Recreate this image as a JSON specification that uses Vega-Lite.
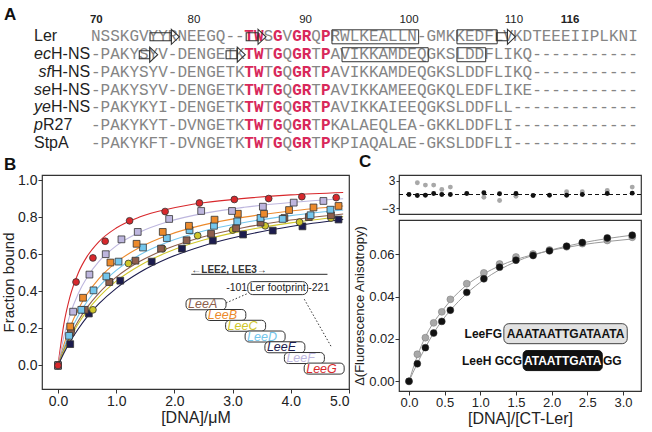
{
"$schema":"https://vega.github.io/schema/vega-lite/v6.json",
"padding":{"left":0,"top":0,"right":0,"bottom":0},
"background":"white",
"spacing":0,
"config":{
 "font":"Liberation Sans",
 "view":{"stroke":"#333","strokeWidth":1.2},
 "axis":{"grid":false,"domain":false,"tickColor":"#333","tickSize":4,"labelColor":"#222","titleColor":"#222","titleFontWeight":"normal","labelPadding":1,"titlePadding":1}
},
"datasets":{
 "seq":[
  {"r":0,"c":0,"s":"NSSKGVYYRNEEGQ--","h":0},{"r":0,"c":16,"s":"TW","h":1},{"r":0,"c":18,"s":"S","h":0},{"r":0,"c":19,"s":"G","h":1},{"r":0,"c":20,"s":"V","h":0},{"r":0,"c":21,"s":"GR","h":1},{"r":0,"c":23,"s":"Q","h":0},{"r":0,"c":24,"s":"P","h":1},{"r":0,"c":25,"s":"RWLKEALLN-GMKKEDFLVKDTEEEIIPLKNI","h":0},
  {"r":1,"c":0,"s":"-PAKYSYV-DENGETK","h":0},{"r":1,"c":16,"s":"TW","h":1},{"r":1,"c":18,"s":"T","h":0},{"r":1,"c":19,"s":"G","h":1},{"r":1,"c":20,"s":"Q","h":0},{"r":1,"c":21,"s":"GR","h":1},{"r":1,"c":23,"s":"T","h":0},{"r":1,"c":24,"s":"P","h":1},{"r":1,"c":25,"s":"AVIKKAMDEQGKSLDDFLIKQ-----------","h":0},
  {"r":2,"c":0,"s":"-PAKYSYV-DENGETK","h":0},{"r":2,"c":16,"s":"TW","h":1},{"r":2,"c":18,"s":"T","h":0},{"r":2,"c":19,"s":"G","h":1},{"r":2,"c":20,"s":"Q","h":0},{"r":2,"c":21,"s":"GR","h":1},{"r":2,"c":23,"s":"T","h":0},{"r":2,"c":24,"s":"P","h":1},{"r":2,"c":25,"s":"AVIKKAMDEQGKSLDDFLIKQ-----------","h":0},
  {"r":3,"c":0,"s":"-PAKYSYV-DENGETK","h":0},{"r":3,"c":16,"s":"TW","h":1},{"r":3,"c":18,"s":"T","h":0},{"r":3,"c":19,"s":"G","h":1},{"r":3,"c":20,"s":"Q","h":0},{"r":3,"c":21,"s":"GR","h":1},{"r":3,"c":23,"s":"T","h":0},{"r":3,"c":24,"s":"P","h":1},{"r":3,"c":25,"s":"AVIKKAMEEQGKQLEDFLIKE-----------","h":0},
  {"r":4,"c":0,"s":"-PAKYKYI-DENGETK","h":0},{"r":4,"c":16,"s":"TW","h":1},{"r":4,"c":18,"s":"T","h":0},{"r":4,"c":19,"s":"G","h":1},{"r":4,"c":20,"s":"Q","h":0},{"r":4,"c":21,"s":"GR","h":1},{"r":4,"c":23,"s":"T","h":0},{"r":4,"c":24,"s":"P","h":1},{"r":4,"c":25,"s":"AVIKKAIEEQGKSLDDFLL-------------","h":0},
  {"r":5,"c":0,"s":"-PAKYKYT-DVNGETK","h":0},{"r":5,"c":16,"s":"TW","h":1},{"r":5,"c":18,"s":"T","h":0},{"r":5,"c":19,"s":"G","h":1},{"r":5,"c":20,"s":"Q","h":0},{"r":5,"c":21,"s":"GR","h":1},{"r":5,"c":23,"s":"T","h":0},{"r":5,"c":24,"s":"P","h":1},{"r":5,"c":25,"s":"KALAEQLEA-GKKLDDFLI-------------","h":0},
  {"r":6,"c":0,"s":"-PAKYKFT-DVNGETK","h":0},{"r":6,"c":16,"s":"TW","h":1},{"r":6,"c":18,"s":"T","h":0},{"r":6,"c":19,"s":"G","h":1},{"r":6,"c":20,"s":"Q","h":0},{"r":6,"c":21,"s":"GR","h":1},{"r":6,"c":23,"s":"T","h":0},{"r":6,"c":24,"s":"P","h":1},{"r":6,"c":25,"s":"KPIAQALAE-GKSLDDFLI-------------","h":0}
 ],
 "names":[{"r":0,"pre":"","m":"Ler"},{"r":1,"pre":"ec","m":"H-NS"},{"r":2,"pre":"sf","m":"H-NS"},{"r":3,"pre":"se","m":"H-NS"},{"r":4,"pre":"ye","m":"H-NS"},{"r":5,"pre":"p","m":"R27"},{"r":6,"pre":"","m":"StpA"}],
 "pos":[{"c":0.55,"n":"70"},{"c":10.75,"n":"80"},{"c":22.4,"n":"90"},{"c":33.2,"n":"100"},{"c":44.15,"n":"110"},{"c":50.0,"n":"116"}],
 "helix":[{"r":0,"c":25.15,"c2":34.2},{"r":0,"c":38.2,"c2":42.4},{"r":1,"c":26.2,"c2":35.2},{"r":1,"c":38.2,"c2":41.2}],
 "strand":[{"r":0,"c":6.16,"c2":9.22},{"r":0,"c":16.2,"c2":18.27},{"r":0,"c":42.35,"c2":44.3},{"r":1,"c":5.04,"c2":6.96},{"r":1,"c":14.1,"c2":16.1}],
 "bpts":[
  {"s":"LeeE","x":0,"y":0},{"s":"LeeE","x":0.21,"y":0.115},{"s":"LeeE","x":0.53,"y":0.28},{"s":"LeeE","x":1.07,"y":0.457},{"s":"LeeE","x":1.61,"y":0.56},{"s":"LeeE","x":2.13,"y":0.63},{"s":"LeeE","x":2.66,"y":0.673},{"s":"LeeE","x":3.18,"y":0.706},{"s":"LeeE","x":3.69,"y":0.727},{"s":"LeeE","x":4.2,"y":0.75},{"s":"LeeE","x":4.82,"y":0.787},
  {"s":"LeeC","x":0,"y":0},{"s":"LeeC","x":0.23,"y":0.19},{"s":"LeeC","x":0.6,"y":0.3},{"s":"LeeC","x":0.89,"y":0.45},{"s":"LeeC","x":1.21,"y":0.55},{"s":"LeeC","x":1.8,"y":0.63},{"s":"LeeC","x":2.4,"y":0.7},{"s":"LeeC","x":3.0,"y":0.73},{"s":"LeeC","x":3.56,"y":0.753},{"s":"LeeC","x":4.15,"y":0.773},{"s":"LeeC","x":4.69,"y":0.795},
  {"s":"LeeA","x":0,"y":0},{"s":"LeeA","x":0.22,"y":0.18},{"s":"LeeA","x":0.46,"y":0.3},{"s":"LeeA","x":0.88,"y":0.45},{"s":"LeeA","x":1.33,"y":0.565},{"s":"LeeA","x":1.77,"y":0.63},{"s":"LeeA","x":2.21,"y":0.675},{"s":"LeeA","x":2.63,"y":0.71},{"s":"LeeA","x":3.06,"y":0.74},{"s":"LeeA","x":3.48,"y":0.77},{"s":"LeeA","x":3.89,"y":0.795},{"s":"LeeA","x":4.31,"y":0.8},{"s":"LeeA","x":4.69,"y":0.81},
  {"s":"LeeD","x":0,"y":0},{"s":"LeeD","x":0.19,"y":0.16},{"s":"LeeD","x":0.4,"y":0.3},{"s":"LeeD","x":0.61,"y":0.405},{"s":"LeeD","x":0.83,"y":0.48},{"s":"LeeD","x":1.04,"y":0.56},{"s":"LeeD","x":1.46,"y":0.636},{"s":"LeeD","x":1.87,"y":0.687},{"s":"LeeD","x":2.26,"y":0.73},{"s":"LeeD","x":2.68,"y":0.753},{"s":"LeeD","x":3.08,"y":0.777},{"s":"LeeD","x":3.48,"y":0.795},{"s":"LeeD","x":3.86,"y":0.79},{"s":"LeeD","x":4.34,"y":0.81},{"s":"LeeD","x":4.68,"y":0.84},
  {"s":"LeeB","x":0,"y":0},{"s":"LeeB","x":0.21,"y":0.21},{"s":"LeeB","x":0.43,"y":0.365},{"s":"LeeB","x":0.9,"y":0.555},{"s":"LeeB","x":1.35,"y":0.656},{"s":"LeeB","x":1.8,"y":0.72},{"s":"LeeB","x":2.25,"y":0.753},{"s":"LeeB","x":2.69,"y":0.786},{"s":"LeeB","x":3.09,"y":0.818},{"s":"LeeB","x":3.54,"y":0.818},{"s":"LeeB","x":3.97,"y":0.838},{"s":"LeeB","x":4.39,"y":0.852},{"s":"LeeB","x":4.82,"y":0.86},
  {"s":"LeeF","x":0,"y":0},{"s":"LeeF","x":0.26,"y":0.29},{"s":"LeeF","x":0.54,"y":0.49},{"s":"LeeF","x":0.82,"y":0.6},{"s":"LeeF","x":1.09,"y":0.68},{"s":"LeeF","x":1.37,"y":0.72},{"s":"LeeF","x":1.91,"y":0.79},{"s":"LeeF","x":2.46,"y":0.833},{"s":"LeeF","x":2.99,"y":0.833},{"s":"LeeF","x":3.52,"y":0.856},{"s":"LeeF","x":4.05,"y":0.878},{"s":"LeeF","x":4.56,"y":0.887},
  {"s":"LeeG","x":0,"y":0},{"s":"LeeG","x":0.31,"y":0.45},{"s":"LeeG","x":0.6,"y":0.58},{"s":"LeeG","x":0.81,"y":0.67},{"s":"LeeG","x":1.23,"y":0.78},{"s":"LeeG","x":1.84,"y":0.83},{"s":"LeeG","x":2.43,"y":0.876},{"s":"LeeG","x":3.03,"y":0.895},{"s":"LeeG","x":3.62,"y":0.9},{"s":"LeeG","x":4.19,"y":0.91},{"s":"LeeG","x":4.78,"y":0.905}
 ],
 "bcurve":[
  {"s":"LeeG","x":0,"y":0},{"s":"LeeG","x":0.1,"y":0.222},{"s":"LeeG","x":0.2,"y":0.364},{"s":"LeeG","x":0.35,"y":0.5},{"s":"LeeG","x":0.5,"y":0.588},{"s":"LeeG","x":0.7,"y":0.667},{"s":"LeeG","x":1.0,"y":0.741},{"s":"LeeG","x":1.4,"y":0.8},{"s":"LeeG","x":1.9,"y":0.844},{"s":"LeeG","x":2.5,"y":0.877},{"s":"LeeG","x":3.2,"y":0.901},{"s":"LeeG","x":4.0,"y":0.92},{"s":"LeeG","x":4.9,"y":0.933},
  {"s":"LeeF","x":0,"y":0},{"s":"LeeF","x":0.1,"y":0.154},{"s":"LeeF","x":0.2,"y":0.267},{"s":"LeeF","x":0.35,"y":0.389},{"s":"LeeF","x":0.5,"y":0.476},{"s":"LeeF","x":0.7,"y":0.56},{"s":"LeeF","x":1.0,"y":0.645},{"s":"LeeF","x":1.4,"y":0.718},{"s":"LeeF","x":1.9,"y":0.776},{"s":"LeeF","x":2.5,"y":0.82},{"s":"LeeF","x":3.2,"y":0.853},{"s":"LeeF","x":4.0,"y":0.879},{"s":"LeeF","x":4.9,"y":0.899},
  {"s":"LeeB","x":0,"y":0},{"s":"LeeB","x":0.1,"y":0.111},{"s":"LeeB","x":0.2,"y":0.2},{"s":"LeeB","x":0.35,"y":0.304},{"s":"LeeB","x":0.5,"y":0.385},{"s":"LeeB","x":0.7,"y":0.467},{"s":"LeeB","x":1.0,"y":0.556},{"s":"LeeB","x":1.4,"y":0.636},{"s":"LeeB","x":1.9,"y":0.704},{"s":"LeeB","x":2.5,"y":0.758},{"s":"LeeB","x":3.2,"y":0.8},{"s":"LeeB","x":4.0,"y":0.833},{"s":"LeeB","x":4.9,"y":0.86},
  {"s":"LeeD","x":0,"y":0},{"s":"LeeD","x":0.1,"y":0.095},{"s":"LeeD","x":0.2,"y":0.174},{"s":"LeeD","x":0.35,"y":0.269},{"s":"LeeD","x":0.5,"y":0.345},{"s":"LeeD","x":0.7,"y":0.424},{"s":"LeeD","x":1.0,"y":0.513},{"s":"LeeD","x":1.4,"y":0.596},{"s":"LeeD","x":1.9,"y":0.667},{"s":"LeeD","x":2.5,"y":0.725},{"s":"LeeD","x":3.2,"y":0.771},{"s":"LeeD","x":4.0,"y":0.808},{"s":"LeeD","x":4.9,"y":0.838},
  {"s":"LeeA","x":0,"y":0},{"s":"LeeA","x":0.1,"y":0.083},{"s":"LeeA","x":0.2,"y":0.154},{"s":"LeeA","x":0.35,"y":0.241},{"s":"LeeA","x":0.5,"y":0.313},{"s":"LeeA","x":0.7,"y":0.389},{"s":"LeeA","x":1.0,"y":0.476},{"s":"LeeA","x":1.4,"y":0.56},{"s":"LeeA","x":1.9,"y":0.633},{"s":"LeeA","x":2.5,"y":0.694},{"s":"LeeA","x":3.2,"y":0.744},{"s":"LeeA","x":4.0,"y":0.784},{"s":"LeeA","x":4.9,"y":0.817},
  {"s":"LeeC","x":0,"y":0},{"s":"LeeC","x":0.1,"y":0.077},{"s":"LeeC","x":0.2,"y":0.143},{"s":"LeeC","x":0.35,"y":0.226},{"s":"LeeC","x":0.5,"y":0.294},{"s":"LeeC","x":0.7,"y":0.368},{"s":"LeeC","x":1.0,"y":0.455},{"s":"LeeC","x":1.4,"y":0.538},{"s":"LeeC","x":1.9,"y":0.613},{"s":"LeeC","x":2.5,"y":0.676},{"s":"LeeC","x":3.2,"y":0.727},{"s":"LeeC","x":4.0,"y":0.769},{"s":"LeeC","x":4.9,"y":0.803},
  {"s":"LeeE","x":0,"y":0},{"s":"LeeE","x":0.1,"y":0.066},{"s":"LeeE","x":0.2,"y":0.124},{"s":"LeeE","x":0.35,"y":0.198},{"s":"LeeE","x":0.5,"y":0.262},{"s":"LeeE","x":0.7,"y":0.332},{"s":"LeeE","x":1.0,"y":0.416},{"s":"LeeE","x":1.4,"y":0.501},{"s":"LeeE","x":1.9,"y":0.579},{"s":"LeeE","x":2.5,"y":0.646},{"s":"LeeE","x":3.2,"y":0.702},{"s":"LeeE","x":4.0,"y":0.749},{"s":"LeeE","x":4.9,"y":0.787}
 ],
 "leebox":[{"s":"LeeA","x":2.2,"x2":2.887,"y":0.33},{"s":"LeeB","x":2.54,"x2":3.227,"y":0.272},{"s":"LeeC","x":2.88,"x2":3.567,"y":0.214},{"s":"LeeD","x":3.215,"x2":3.902,"y":0.156},{"s":"LeeE","x":3.555,"x2":4.242,"y":0.098},{"s":"LeeF","x":3.89,"x2":4.577,"y":0.04},{"s":"LeeG","x":4.23,"x2":4.917,"y":-0.017}],
 "cres":[
  {"s":"gray","x":0.117,"r":2.6},{"s":"gray","x":0.23,"r":2.07},{"s":"gray","x":0.346,"r":2.07},{"s":"gray","x":0.46,"r":1.1},{"s":"gray","x":0.58,"r":1.63},{"s":"gray","x":1.05,"r":-0.6},{"s":"gray","x":1.27,"r":-1.33},{"s":"gray","x":1.5,"r":-0.37},{"s":"gray","x":2.21,"r":0.6},{"s":"gray","x":2.43,"r":0.6},{"s":"gray","x":2.78,"r":0.9},{"s":"gray","x":3.13,"r":1.63},
  {"s":"black","x":0,"r":0},{"s":"black","x":0.117,"r":-0.22},{"s":"black","x":0.23,"r":-0.15},{"s":"black","x":0.346,"r":0.22},{"s":"black","x":0.46,"r":0},{"s":"black","x":0.58,"r":0},{"s":"black","x":0.81,"r":0.22},{"s":"black","x":1.05,"r":0.37},{"s":"black","x":1.27,"r":0.15},{"s":"black","x":1.5,"r":0.22},{"s":"black","x":1.74,"r":-0.22},{"s":"black","x":1.97,"r":-0.15},{"s":"black","x":2.21,"r":-0.15},{"s":"black","x":2.43,"r":0},{"s":"black","x":2.78,"r":0.22},{"s":"black","x":3.13,"r":0.3}
 ],
 "cpts":[
  {"s":"gray","x":0,"y":0},{"s":"gray","x":0.117,"y":0.0128},{"s":"gray","x":0.23,"y":0.0206},{"s":"gray","x":0.346,"y":0.0276},{"s":"gray","x":0.46,"y":0.0328},{"s":"gray","x":0.58,"y":0.0387},{"s":"gray","x":0.81,"y":0.0461},{"s":"gray","x":1.05,"y":0.0512},{"s":"gray","x":1.27,"y":0.0554},{"s":"gray","x":1.5,"y":0.0587},{"s":"gray","x":1.74,"y":0.0601},{"s":"gray","x":1.97,"y":0.062},{"s":"gray","x":2.21,"y":0.0635},{"s":"gray","x":2.43,"y":0.065},{"s":"gray","x":2.78,"y":0.0665},{"s":"gray","x":3.13,"y":0.068},
  {"s":"black","x":0,"y":0},{"s":"black","x":0.117,"y":0.0083},{"s":"black","x":0.23,"y":0.0159},{"s":"black","x":0.346,"y":0.0228},{"s":"black","x":0.46,"y":0.0283},{"s":"black","x":0.58,"y":0.0336},{"s":"black","x":0.81,"y":0.042},{"s":"black","x":1.05,"y":0.0484},{"s":"black","x":1.27,"y":0.0539},{"s":"black","x":1.5,"y":0.0572},{"s":"black","x":1.74,"y":0.0594},{"s":"black","x":1.97,"y":0.0616},{"s":"black","x":2.21,"y":0.0638},{"s":"black","x":2.43,"y":0.0655},{"s":"black","x":2.78,"y":0.0677},{"s":"black","x":3.13,"y":0.069}
 ],
 "ccurve":[
  {"s":"black","x":0,"y":0},{"s":"black","x":0.117,"y":0.0085},{"s":"black","x":0.23,"y":0.016},{"s":"black","x":0.346,"y":0.0228},{"s":"black","x":0.46,"y":0.0285},{"s":"black","x":0.58,"y":0.0335},{"s":"black","x":0.81,"y":0.0415},{"s":"black","x":1.05,"y":0.048},{"s":"black","x":1.27,"y":0.0527},{"s":"black","x":1.5,"y":0.0565},{"s":"black","x":1.74,"y":0.0595},{"s":"black","x":1.97,"y":0.0618},{"s":"black","x":2.21,"y":0.0638},{"s":"black","x":2.43,"y":0.0654},{"s":"black","x":2.78,"y":0.0674},{"s":"black","x":3.13,"y":0.069},
  {"s":"gray","x":0,"y":0},{"s":"gray","x":0.117,"y":0.012},{"s":"gray","x":0.23,"y":0.021},{"s":"gray","x":0.346,"y":0.0278},{"s":"gray","x":0.46,"y":0.033},{"s":"gray","x":0.58,"y":0.038},{"s":"gray","x":0.81,"y":0.0455},{"s":"gray","x":1.05,"y":0.0508},{"s":"gray","x":1.27,"y":0.0545},{"s":"gray","x":1.5,"y":0.0575},{"s":"gray","x":1.74,"y":0.0598},{"s":"gray","x":1.97,"y":0.0617},{"s":"gray","x":2.21,"y":0.0632},{"s":"gray","x":2.43,"y":0.0645},{"s":"gray","x":2.78,"y":0.066},{"s":"gray","x":3.13,"y":0.0672}
 ]
},
"vconcat":[
 {
  "width":607,"height":150,
  "view":{"stroke":null},
  "layer":[
   {"data":{"name":"seq"},"transform":[{"filter":"datum.h==0"}],"mark":{"type":"text","align":"left","baseline":"middle","font":"Liberation Mono","fontSize":16,"color":"#858585"},"encoding":{"x":{"field":"c","type":"quantitative","scale":{"domain":[-5.115,58.245],"nice":false,"zero":false},"axis":null},"y":{"field":"r","type":"quantitative","scale":{"domain":[-1.719,6.094],"nice":false,"zero":false,"reverse":true},"axis":null},"text":{"field":"s"}}},
   {"data":{"name":"seq"},"transform":[{"filter":"datum.h==1"}],"mark":{"type":"text","align":"left","baseline":"middle","font":"Liberation Mono","fontSize":16,"fontWeight":"bold","color":"#d8285a"},"encoding":{"x":{"field":"c","type":"quantitative","scale":{"domain":[-5.115,58.245],"nice":false,"zero":false},"axis":null},"y":{"field":"r","type":"quantitative","scale":{"domain":[-1.719,6.094],"nice":false,"zero":false,"reverse":true},"axis":null},"text":{"field":"s"}}},
   {"data":{"name":"helix"},"mark":{"type":"bar","size":14,"fill":"transparent","stroke":"#333","strokeWidth":1,"yOffset":1},"encoding":{"x":{"field":"c","type":"quantitative","scale":{"domain":[-5.115,58.245],"nice":false,"zero":false},"axis":null},"x2":{"field":"c2"},"y":{"field":"r","type":"quantitative","scale":{"domain":[-1.719,6.094],"nice":false,"zero":false,"reverse":true},"axis":null}}},
   {"data":{"name":"strand"},"mark":{"type":"bar","size":8,"fill":"transparent","stroke":"#333","strokeWidth":1.1,"x2Offset":-8,"yOffset":1},"encoding":{"x":{"field":"c","type":"quantitative","scale":{"domain":[-5.115,58.245],"nice":false,"zero":false},"axis":null},"x2":{"field":"c2"},"y":{"field":"r","type":"quantitative","scale":{"domain":[-1.719,6.094],"nice":false,"zero":false,"reverse":true},"axis":null}}},
   {"data":{"name":"strand"},"mark":{"type":"point","shape":"M-0.53,-1L0.53,0L-0.53,1Z","size":225,"filled":false,"stroke":"#333","strokeWidth":1.1,"xOffset":-4,"yOffset":1,"opacity":1},"encoding":{"x":{"field":"c2","type":"quantitative","scale":{"domain":[-5.115,58.245],"nice":false,"zero":false},"axis":null},"y":{"field":"r","type":"quantitative","scale":{"domain":[-1.719,6.094],"nice":false,"zero":false,"reverse":true},"axis":null}}},
   {"data":{"name":"pos"},"transform":[{"filter":"datum.n=='70'||datum.n=='116'"}],"mark":{"type":"text","align":"center","baseline":"middle","fontSize":11.5,"fontWeight":"bold","color":"#222"},"encoding":{"x":{"field":"c","type":"quantitative","scale":{"domain":[-5.115,58.245],"nice":false,"zero":false},"axis":null},"y":{"datum":-0.885,"type":"quantitative","scale":{"domain":[-1.719,6.094],"nice":false,"zero":false,"reverse":true},"axis":null},"text":{"field":"n"}}},
   {"data":{"name":"pos"},"transform":[{"filter":"datum.n!='70'&&datum.n!='116'"}],"mark":{"type":"text","align":"center","baseline":"middle","fontSize":11.5,"color":"#222"},"encoding":{"x":{"field":"c","type":"quantitative","scale":{"domain":[-5.115,58.245],"nice":false,"zero":false},"axis":null},"y":{"datum":-0.885,"type":"quantitative","scale":{"domain":[-1.719,6.094],"nice":false,"zero":false,"reverse":true},"axis":null},"text":{"field":"n"}}},
   {"data":{"name":"names"},"transform":[{"filter":"datum.pre==''"}],"mark":{"type":"text","align":"left","baseline":"middle","fontSize":16,"color":"#222"},"encoding":{"x":{"datum":-5.95,"type":"quantitative","scale":{"domain":[-5.115,58.245],"nice":false,"zero":false},"axis":null},"y":{"field":"r","type":"quantitative","scale":{"domain":[-1.719,6.094],"nice":false,"zero":false,"reverse":true},"axis":null},"text":{"field":"m"}}},
   {"data":{"name":"names"},"transform":[{"filter":"datum.m=='H-NS'"}],"mark":{"type":"text","align":"right","baseline":"middle","fontSize":16,"fontStyle":"italic","color":"#222"},"encoding":{"x":{"datum":-4.174,"type":"quantitative","scale":{"domain":[-5.115,58.245],"nice":false,"zero":false},"axis":null},"y":{"field":"r","type":"quantitative","scale":{"domain":[-1.719,6.094],"nice":false,"zero":false,"reverse":true},"axis":null},"text":{"field":"pre"}}},
   {"data":{"name":"names"},"transform":[{"filter":"datum.m=='H-NS'"}],"mark":{"type":"text","align":"left","baseline":"middle","fontSize":16,"color":"#222"},"encoding":{"x":{"datum":-4.174,"type":"quantitative","scale":{"domain":[-5.115,58.245],"nice":false,"zero":false},"axis":null},"y":{"field":"r","type":"quantitative","scale":{"domain":[-1.719,6.094],"nice":false,"zero":false,"reverse":true},"axis":null},"text":{"field":"m"}}},
   {"data":{"name":"names"},"transform":[{"filter":"datum.m=='R27'"}],"mark":{"type":"text","align":"right","baseline":"middle","fontSize":16,"fontStyle":"italic","color":"#222"},"encoding":{"x":{"datum":-5.009,"type":"quantitative","scale":{"domain":[-5.115,58.245],"nice":false,"zero":false},"axis":null},"y":{"field":"r","type":"quantitative","scale":{"domain":[-1.719,6.094],"nice":false,"zero":false,"reverse":true},"axis":null},"text":{"field":"pre"}}},
   {"data":{"name":"names"},"transform":[{"filter":"datum.m=='R27'"}],"mark":{"type":"text","align":"left","baseline":"middle","fontSize":16,"color":"#222"},"encoding":{"x":{"datum":-5.009,"type":"quantitative","scale":{"domain":[-5.115,58.245],"nice":false,"zero":false},"axis":null},"y":{"field":"r","type":"quantitative","scale":{"domain":[-1.719,6.094],"nice":false,"zero":false,"reverse":true},"axis":null},"text":{"field":"m"}}},
   {"data":{"values":[{"c":-9.08,"r":-1.146,"t":"A"}]},"mark":{"type":"text","align":"left","baseline":"middle","fontSize":17,"fontWeight":"bold","color":"#111"},"encoding":{"x":{"field":"c","type":"quantitative","scale":{"domain":[-5.115,58.245],"nice":false,"zero":false},"axis":null},"y":{"field":"r","type":"quantitative","scale":{"domain":[-1.719,6.094],"nice":false,"zero":false,"reverse":true},"axis":null},"text":{"field":"t"}}}
  ]
 },
 {
  "spacing":2,
  "hconcat":[
   {
    "width":307,"height":214,
    "encoding":{
     "x":{"field":"x","type":"quantitative","scale":{"domain":[-0.275,5.0],"nice":false,"zero":false},"axis":{"values":[0,1,2,3,4,5],"format":".1f","title":"[DNA]/μM","labelFontSize":14,"titleFontSize":16}},
     "y":{"field":"y","type":"quantitative","scale":{"domain":[-0.1,1.0],"nice":false,"zero":false},"axis":{"values":[0,0.2,0.4,0.6,0.8,1.0],"format":".1f","title":"Fraction bound","labelFontSize":14,"titleFontSize":15}}
    },
    "layer":[
     {"data":{"name":"bcurve"},"mark":{"type":"line","strokeWidth":1.1,"interpolate":"monotone"},"encoding":{"color":{"field":"s","type":"nominal","scale":{"domain":["LeeA","LeeB","LeeC","LeeD","LeeE","LeeF","LeeG"],"range":["#8e5f4c","#ec8a2c","#cfc62a","#74c6ec","#1c1c4e","#bdb6de","#d8282c"]},"legend":null}}},
     {"data":{"name":"bpts"},"mark":{"type":"point","filled":true,"size":46,"stroke":"#333","strokeWidth":0.8,"opacity":1},"encoding":{"color":{"field":"s","type":"nominal","scale":{"domain":["LeeA","LeeB","LeeC","LeeD","LeeE","LeeF","LeeG"],"range":["#8e5f4c","#ec8a2c","#cfc62a","#74c6ec","#1c1c4e","#bdb6de","#d8282c"]},"legend":null},"shape":{"field":"s","type":"nominal","scale":{"domain":["LeeA","LeeB","LeeC","LeeD","LeeE","LeeF","LeeG"],"range":["square","square","circle","square","square","square","circle"]},"legend":null}}},
     {"data":{"values":[{"x":2.29,"x2":4.63,"y":0.491}]},"mark":{"type":"rule","color":"#555","strokeWidth":1.3},"encoding":{"x2":{"field":"x2"}}},
     {"data":{"values":[{"x":2.29,"y":0.515,"t":"←LEE2, LEE3→"}]},"mark":{"type":"text","align":"left","baseline":"middle","fontSize":10,"fontWeight":"bold","color":"#333"},"encoding":{"text":{"field":"t"}}},
     {"data":{"values":[{"x":2.887,"y":0.337,"x2":3.259,"y2":0.388},{"x":4.232,"y":0.357,"x2":4.69,"y2":0.104}]},"mark":{"type":"rule","strokeDash":[1.5,2],"color":"#333","strokeWidth":1},"encoding":{"x2":{"field":"x2"},"y2":{"field":"y2"}}},
     {"data":{"values":[{"x":3.26,"x2":4.29,"y":0.417}]},"mark":{"type":"bar","size":13,"cornerRadius":5,"fill":"white","stroke":"#333","strokeWidth":1},"encoding":{"x2":{"field":"x2"}}},
     {"data":{"values":[{"x":3.775,"y":0.417,"t":"Ler footprint"}]},"mark":{"type":"text","align":"center","baseline":"middle","fontSize":10.5,"color":"#222"},"encoding":{"text":{"field":"t"}}},
     {"data":{"values":[{"x":3.25,"y":0.417,"t":"-101"}]},"mark":{"type":"text","align":"right","baseline":"middle","fontSize":10.5,"color":"#222"},"encoding":{"text":{"field":"t"}}},
     {"data":{"values":[{"x":4.3,"y":0.417,"t":"-221"}]},"mark":{"type":"text","align":"left","baseline":"middle","fontSize":10.5,"color":"#222"},"encoding":{"text":{"field":"t"}}},
     {"data":{"name":"leebox"},"mark":{"type":"bar","size":11,"cornerRadius":4,"fill":"white","stroke":"#333","strokeWidth":1},"encoding":{"x2":{"field":"x2"}}},
     {"data":{"name":"leebox"},"mark":{"type":"text","align":"left","baseline":"middle","fontSize":12.5,"fontStyle":"italic","dx":2},"encoding":{"text":{"field":"s"},"color":{"field":"s","type":"nominal","scale":{"domain":["LeeA","LeeB","LeeC","LeeD","LeeE","LeeF","LeeG"],"range":["#8e5f4c","#ec8a2c","#cfc62a","#74c6ec","#1c1c4e","#bdb6de","#d8282c"]},"legend":null}}},
     {"data":{"values":[{"x":-0.928,"y":1.08,"t":"B"}]},"mark":{"type":"text","align":"left","baseline":"middle","fontSize":17,"fontWeight":"bold","color":"#111"},"encoding":{"text":{"field":"t"}}}
    ]
   },
   {
    "spacing":4,
    "vconcat":[
     {
      "width":242,"height":39,
      "layer":[
       {"data":{"values":[{"r":0}]},"mark":{"type":"rule","strokeDash":[4,3],"color":"#111","strokeWidth":1.2},"encoding":{"y":{"field":"r","type":"quantitative","scale":{"domain":[-4.3,4.3],"nice":false,"zero":false},"axis":{"values":[-3,3],"title":null,"labelFontSize":12,"tickSize":3}}}},
       {"data":{"name":"cres"},"transform":[{"filter":"datum.s=='gray'"}],"mark":{"type":"circle","size":24,"opacity":1,"color":"#a8a8a8"},"encoding":{"x":{"field":"x","type":"quantitative","scale":{"domain":[-0.14,3.253],"nice":false,"zero":false},"axis":null},"y":{"field":"r","type":"quantitative","scale":{"domain":[-4.3,4.3],"nice":false,"zero":false},"axis":{"values":[-3,3],"title":null,"labelFontSize":12,"tickSize":3}}}},
       {"data":{"name":"cres"},"transform":[{"filter":"datum.s=='black'"}],"mark":{"type":"circle","size":24,"opacity":1,"color":"#111111"},"encoding":{"x":{"field":"x","type":"quantitative","scale":{"domain":[-0.14,3.253],"nice":false,"zero":false},"axis":null},"y":{"field":"r","type":"quantitative","scale":{"domain":[-4.3,4.3],"nice":false,"zero":false},"axis":{"values":[-3,3],"title":null,"labelFontSize":12,"tickSize":3}}}},
       {"data":{"values":[{"x":-0.701,"r":7.1,"t":"C"}]},"mark":{"type":"text","align":"left","baseline":"middle","fontSize":17,"fontWeight":"bold","color":"#111"},"encoding":{"x":{"field":"x","type":"quantitative","scale":{"domain":[-0.14,3.253],"nice":false,"zero":false},"axis":null},"y":{"field":"r","type":"quantitative","scale":{"domain":[-4.3,4.3],"nice":false,"zero":false},"axis":{"values":[-3,3],"title":null,"labelFontSize":12,"tickSize":3}},"text":{"field":"t"}}}
      ]
     },
     {
      "width":242,"height":171,
      "encoding":{
       "x":{"field":"x","type":"quantitative","scale":{"domain":[-0.14,3.253],"nice":false,"zero":false},"axis":{"values":[0,0.5,1,1.5,2,2.5,3],"format":".1f","title":"[DNA]/[CT-Ler]","labelFontSize":13,"titleFontSize":16}},
       "y":{"field":"y","type":"quantitative","scale":{"domain":[-0.0022,0.0738],"nice":false,"zero":false},"axis":{"values":[0,0.02,0.04,0.06],"format":".2f","title":"Δ(Fluorescence Anisotropy)","labelFontSize":13,"titleFontSize":13,"titlePadding":2}}
      },
      "layer":[
       {"data":{"name":"ccurve"},"mark":{"type":"line","color":"#9a9a9a","strokeWidth":1,"interpolate":"monotone"},"encoding":{"detail":{"field":"s"}}},
       {"data":{"name":"cpts"},"transform":[{"filter":"datum.s=='gray'"}],"mark":{"type":"circle","size":48,"opacity":1,"color":"#a8a8a8","stroke":"#777","strokeWidth":0.5}},
       {"data":{"name":"cpts"},"transform":[{"filter":"datum.s=='black'"}],"mark":{"type":"circle","size":48,"opacity":1,"color":"#111111","stroke":"#333","strokeWidth":0.5}},
       {"data":{"values":[{"x":1.33,"x2":3.06,"y":0.0225}]},"mark":{"type":"bar","size":20,"cornerRadius":5,"fill":"#e2e2e2","stroke":"#444","strokeWidth":1},"encoding":{"x2":{"field":"x2"}}},
       {"data":{"values":[{"x":1.6,"x2":2.71,"y":0.0098}]},"mark":{"type":"bar","size":20,"cornerRadius":4,"fill":"#111","stroke":"#111"},"encoding":{"x2":{"field":"x2"}}},
       {"data":{"values":[{"x":0.78,"y":0.0225,"t":"LeeFG"},{"x":2.72,"y":0.0098,"t":"GG"}]},"mark":{"type":"text","align":"left","baseline":"middle","fontSize":12,"fontWeight":"bold","color":"#111"},"encoding":{"text":{"field":"t"}}},
       {"data":{"values":[{"x":1.585,"y":0.0098,"t":"LeeH GCG"}]},"mark":{"type":"text","align":"right","baseline":"middle","fontSize":12,"fontWeight":"bold","color":"#111"},"encoding":{"text":{"field":"t"}}},
       {"data":{"values":[{"x":2.195,"y":0.0225,"t":"AAATAATTGATAATA"}]},"mark":{"type":"text","align":"center","baseline":"middle","fontSize":12,"fontWeight":"bold","color":"#111"},"encoding":{"text":{"field":"t"}}},
       {"data":{"values":[{"x":2.155,"y":0.0098,"t":"ATAATTGATA"}]},"mark":{"type":"text","align":"center","baseline":"middle","fontSize":12,"fontWeight":"bold","color":"#ffffff"},"encoding":{"text":{"field":"t"}}}
      ]
     }
    ]
   }
  ]
 }
]
}
